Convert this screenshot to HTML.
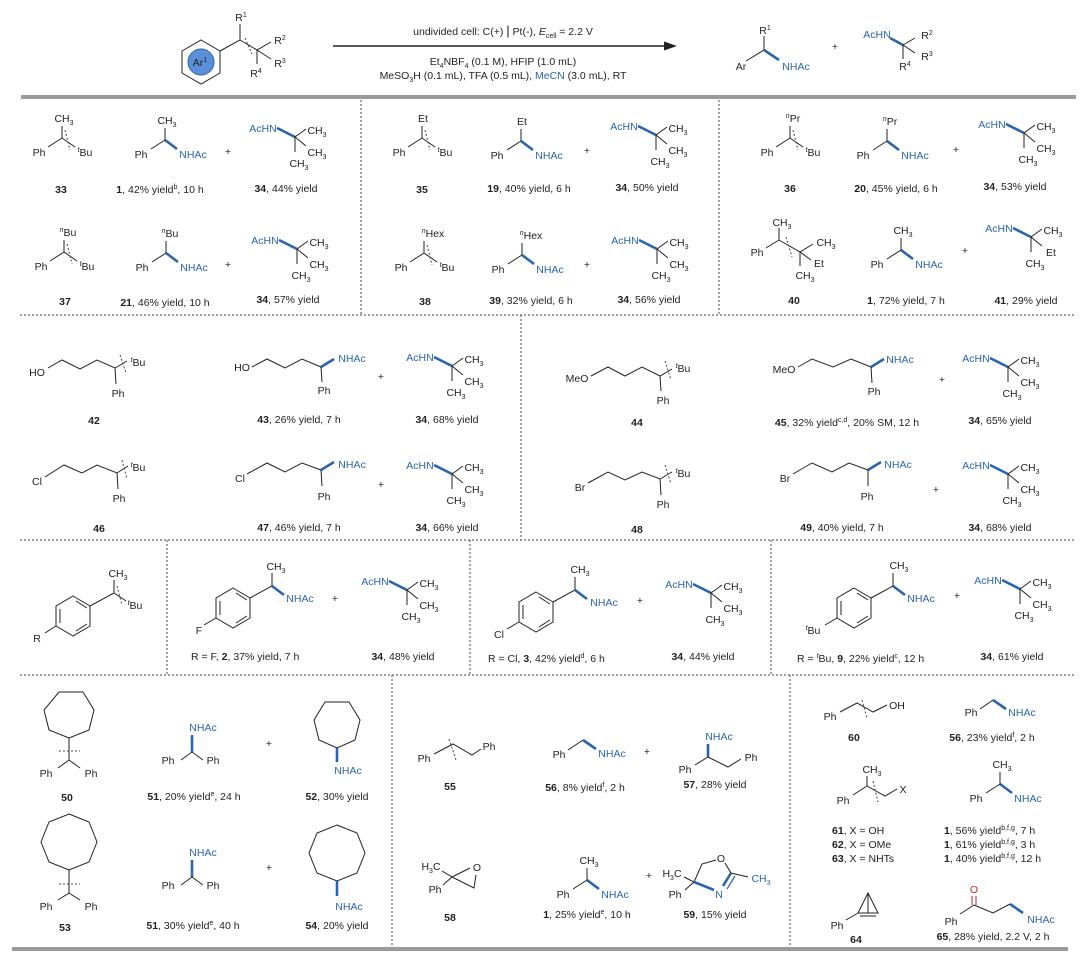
<!DOCTYPE html>
<html><head><meta charset="utf-8"><style>
html,body{margin:0;padding:0;background:#fff;}
svg{display:block;font-family:"Liberation Sans",sans-serif;font-size:10.5px;}
text{fill:#222;text-anchor:middle;}
.b{fill:#2a64b0;}
.s{text-anchor:start;}
.k{stroke:#222;stroke-width:1;fill:none;}
.bb{stroke:#2a64b0;stroke-width:2.6;fill:none;}
.d{stroke:#444;stroke-width:1;stroke-dasharray:2,2;fill:none;}
.sep{stroke:#666;stroke-width:1.2;stroke-dasharray:2,2;}
</style></head><body>
<svg width="1080" height="961" viewBox="0 0 1080 961" xmlns="http://www.w3.org/2000/svg">
<defs></defs>
<!-- header -->
<polygon class="k" points="201,40 220,51 220,73 201,84 182,73 182,51"/>
<circle cx="201" cy="62" r="13" fill="#5b8fd8" stroke="#2a64b0"/>
<text x="200" y="66">Ar<tspan dy="-4" font-size="7">1</tspan></text>
<path class="k" d="M220,51 L240,40 L240,24 M240,40 L257,50 L271,42 M257,50 L271,59 M257,50 L257,64"/>
<path class="d" d="M245,38 L252,54"/>
<text x="241" y="21">R<tspan dy="-4" font-size="7">1</tspan></text>
<text x="280" y="44">R<tspan dy="-4" font-size="7">2</tspan></text>
<text x="280" y="67">R<tspan dy="-4" font-size="7">3</tspan></text>
<text x="256" y="77">R<tspan dy="-4" font-size="7">4</tspan></text>
<line x1="333" y1="46" x2="668" y2="46" stroke="#222" stroke-width="1.5"/>
<polygon points="677,46 664,41.5 664,50.5" fill="#222"/>
<text x="503" y="35">undivided cell:  C(+) <tspan font-size="13">|</tspan> Pt(-),  <tspan font-style="italic">E</tspan><tspan dy="3" font-size="7">cell</tspan><tspan dy="-3"> = 2.2 V</tspan></text>
<text x="503" y="65">Et<tspan dy="3" font-size="7">4</tspan><tspan dy="-3">NBF</tspan><tspan dy="3" font-size="7">4</tspan><tspan dy="-3"> (0.1 M), HFIP (1.0 mL)</tspan></text>
<text x="503" y="79">MeSO<tspan dy="3" font-size="7">3</tspan><tspan dy="-3">H (0.1 mL), TFA (0.5 mL), </tspan><tspan class="b">MeCN</tspan> (3.0 mL), RT</text>
<path class="k" d="M746,61 L764,50 L764,36"/><path class="bb" d="M764,50 L779,60"/>
<text x="741" y="70">Ar</text><text x="765" y="34">R<tspan dy="-4" font-size="7">1</tspan></text><text class="b" x="796" y="70">NHAc</text>
<text x="835" y="50">+</text>
<path class="bb" d="M890,38 L903,45"/><path class="k" d="M903,45 L915,38 M903,45 L915,53 M903,45 L903,59"/>
<text class="b" x="877" y="38">AcHN</text>
<text x="927" y="39">R<tspan dy="-4" font-size="7">2</tspan></text>
<text x="927" y="60">R<tspan dy="-4" font-size="7">3</tspan></text>
<text x="905" y="70">R<tspan dy="-4" font-size="7">4</tspan></text>

<!-- separators -->
<rect x="21" y="95" width="1055" height="4" fill="#9a9a9a"/>
<rect x="12" y="947" width="1056" height="4" fill="#9a9a9a"/>
<line class="sep" x1="20" y1="315" x2="1076" y2="315"/>
<line class="sep" x1="20" y1="540" x2="1076" y2="540"/>
<line class="sep" x1="20" y1="675" x2="1076" y2="675"/>
<line class="sep" x1="361" y1="100" x2="361" y2="315"/>
<line class="sep" x1="719" y1="100" x2="719" y2="315"/>
<line class="sep" x1="521" y1="315" x2="521" y2="540"/>
<line class="sep" x1="167" y1="540" x2="167" y2="675"/>
<line class="sep" x1="470" y1="540" x2="470" y2="675"/>
<line class="sep" x1="771" y1="540" x2="771" y2="675"/>
<line class="sep" x1="392" y1="675" x2="392" y2="946"/>
<line class="sep" x1="790" y1="675" x2="790" y2="946"/>

<!-- ROW 1 -->
<!-- 33 -->
<g transform="translate(62,138)"><path class="k" d="M0,0 L0,-12 M0,0 L-14,9 M0,0 L13,9"/><path class="d" d="M3,-8 L8,12"/>
<text x="2" y="-16">CH<tspan dy="3" font-size="7">3</tspan></text><text x="-23" y="18">Ph</text><text x="23" y="18"><tspan font-style="italic" font-size="7" dy="-4">t</tspan><tspan dy="4">Bu</tspan></text></g>
<g transform="translate(165,140)"><path class="k" d="M0,0 L0,-12 M0,0 L-14,9"/><path class="bb" d="M0,0 L12,9"/>
<text x="2" y="-16">CH<tspan dy="3" font-size="7">3</tspan></text><text x="-24" y="18">Ph</text><text class="b" x="28" y="18">NHAc</text></g>
<text x="228" y="155">+</text>
<g transform="translate(295,137)"><path class="bb" d="M-18,-9 L0,0"/><path class="k" d="M0,0 L11,-8 M0,0 L11,9 M0,0 L0,15"/>
<text class="b" x="-32" y="-5">AcHN</text><text x="22" y="-3">CH<tspan dy="3" font-size="7">3</tspan></text><text x="22" y="19">CH<tspan dy="3" font-size="7">3</tspan></text><text x="4" y="30">CH<tspan dy="3" font-size="7">3</tspan></text></g>
<text x="61" y="193" font-weight="bold">33</text>
<text x="160" y="193"><tspan font-weight="bold">1</tspan>, 42% yield<tspan dy="-4" font-size="7">b</tspan><tspan dy="4">, 10 h</tspan></text>
<text x="286" y="192"><tspan font-weight="bold">34</tspan>, 44% yield</text>
<!-- 35 -->
<g transform="translate(422,138)"><path class="k" d="M0,0 L0,-12 M0,0 L-14,9 M0,0 L13,9"/><path class="d" d="M3,-8 L8,12"/>
<text x="1" y="-16">Et</text><text x="-23" y="18">Ph</text><text x="23" y="18"><tspan font-style="italic" font-size="7" dy="-4">t</tspan><tspan dy="4">Bu</tspan></text></g>
<g transform="translate(521,141)"><path class="k" d="M0,0 L0,-12 M0,0 L-14,9"/><path class="bb" d="M0,0 L12,9"/>
<text x="1" y="-16">Et</text><text x="-24" y="18">Ph</text><text class="b" x="28" y="18">NHAc</text></g>
<text x="587" y="154">+</text>
<g transform="translate(656,135)"><path class="bb" d="M-18,-9 L0,0"/><path class="k" d="M0,0 L11,-8 M0,0 L11,9 M0,0 L0,15"/>
<text class="b" x="-32" y="-5">AcHN</text><text x="22" y="-3">CH<tspan dy="3" font-size="7">3</tspan></text><text x="22" y="19">CH<tspan dy="3" font-size="7">3</tspan></text><text x="4" y="30">CH<tspan dy="3" font-size="7">3</tspan></text></g>
<text x="422" y="193" font-weight="bold">35</text>
<text x="529" y="192"><tspan font-weight="bold">19</tspan>, 40% yield, 6 h</text>
<text x="647" y="191"><tspan font-weight="bold">34</tspan>, 50% yield</text>
<!-- 36 -->
<g transform="translate(790,138)"><path class="k" d="M0,0 L0,-12 M0,0 L-14,9 M0,0 L13,9"/><path class="d" d="M3,-8 L8,12"/>
<text x="3" y="-16"><tspan font-style="italic" font-size="7" dy="-4">n</tspan><tspan dy="4">Pr</tspan></text><text x="-23" y="18">Ph</text><text x="23" y="18"><tspan font-style="italic" font-size="7" dy="-4">t</tspan><tspan dy="4">Bu</tspan></text></g>
<g transform="translate(887,141)"><path class="k" d="M0,0 L0,-12 M0,0 L-14,9"/><path class="bb" d="M0,0 L12,9"/>
<text x="3" y="-16"><tspan font-style="italic" font-size="7" dy="-4">n</tspan><tspan dy="4">Pr</tspan></text><text x="-24" y="18">Ph</text><text class="b" x="28" y="18">NHAc</text></g>
<text x="956" y="153">+</text>
<g transform="translate(1024,133)"><path class="bb" d="M-18,-9 L0,0"/><path class="k" d="M0,0 L11,-8 M0,0 L11,9 M0,0 L0,15"/>
<text class="b" x="-32" y="-5">AcHN</text><text x="22" y="-3">CH<tspan dy="3" font-size="7">3</tspan></text><text x="22" y="19">CH<tspan dy="3" font-size="7">3</tspan></text><text x="4" y="30">CH<tspan dy="3" font-size="7">3</tspan></text></g>
<text x="790" y="192" font-weight="bold">36</text>
<text x="896" y="192"><tspan font-weight="bold">20</tspan>, 45% yield, 6 h</text>
<text x="1015" y="190"><tspan font-weight="bold">34</tspan>, 53% yield</text>
<!-- 37 -->
<g transform="translate(64,252)"><path class="k" d="M0,0 L0,-12 M0,0 L-14,9 M0,0 L13,9"/><path class="d" d="M3,-8 L8,12"/>
<text x="4" y="-16"><tspan font-style="italic" font-size="7" dy="-4">n</tspan><tspan dy="4">Bu</tspan></text><text x="-23" y="18">Ph</text><text x="23" y="18"><tspan font-style="italic" font-size="7" dy="-4">t</tspan><tspan dy="4">Bu</tspan></text></g>
<g transform="translate(166,253)"><path class="k" d="M0,0 L0,-12 M0,0 L-14,9"/><path class="bb" d="M0,0 L12,9"/>
<text x="4" y="-16"><tspan font-style="italic" font-size="7" dy="-4">n</tspan><tspan dy="4">Bu</tspan></text><text x="-24" y="18">Ph</text><text class="b" x="28" y="18">NHAc</text></g>
<text x="228" y="268">+</text>
<g transform="translate(297,249)"><path class="bb" d="M-18,-9 L0,0"/><path class="k" d="M0,0 L11,-8 M0,0 L11,9 M0,0 L0,15"/>
<text class="b" x="-32" y="-5">AcHN</text><text x="22" y="-3">CH<tspan dy="3" font-size="7">3</tspan></text><text x="22" y="19">CH<tspan dy="3" font-size="7">3</tspan></text><text x="4" y="30">CH<tspan dy="3" font-size="7">3</tspan></text></g>
<text x="65" y="305" font-weight="bold">37</text>
<text x="165" y="306"><tspan font-weight="bold">21</tspan>, 46% yield, 10 h</text>
<text x="288" y="303"><tspan font-weight="bold">34</tspan>, 57% yield</text>
<!-- 38 -->
<g transform="translate(424,253)"><path class="k" d="M0,0 L0,-12 M0,0 L-14,9 M0,0 L13,9"/><path class="d" d="M3,-8 L8,12"/>
<text x="9" y="-16"><tspan font-style="italic" font-size="7" dy="-4">n</tspan><tspan dy="4">Hex</tspan></text><text x="-23" y="18">Ph</text><text x="23" y="18"><tspan font-style="italic" font-size="7" dy="-4">t</tspan><tspan dy="4">Bu</tspan></text></g>
<g transform="translate(522,255)"><path class="k" d="M0,0 L0,-12 M0,0 L-14,9"/><path class="bb" d="M0,0 L12,9"/>
<text x="9" y="-16"><tspan font-style="italic" font-size="7" dy="-4">n</tspan><tspan dy="4">Hex</tspan></text><text x="-24" y="18">Ph</text><text class="b" x="28" y="18">NHAc</text></g>
<text x="587" y="268">+</text>
<g transform="translate(657,249)"><path class="bb" d="M-18,-9 L0,0"/><path class="k" d="M0,0 L11,-8 M0,0 L11,9 M0,0 L0,15"/>
<text class="b" x="-32" y="-5">AcHN</text><text x="22" y="-3">CH<tspan dy="3" font-size="7">3</tspan></text><text x="22" y="19">CH<tspan dy="3" font-size="7">3</tspan></text><text x="4" y="30">CH<tspan dy="3" font-size="7">3</tspan></text></g>
<text x="425" y="305" font-weight="bold">38</text>
<text x="531" y="304"><tspan font-weight="bold">39</tspan>, 32% yield, 6 h</text>
<text x="649" y="303"><tspan font-weight="bold">34</tspan>, 56% yield</text>
<!-- 40 -->
<path class="k" d="M779,240 L779,228 M779,240 L766,248 M779,240 L800,252 L813,244 M800,252 L811,260 M800,252 L800,266"/>
<path class="d" d="M786,237 L792,257"/>
<text x="782" y="226">CH<tspan dy="3" font-size="7">3</tspan></text><text x="757" y="256">Ph</text>
<text x="826" y="246">CH<tspan dy="3" font-size="7">3</tspan></text><text x="819" y="267">Et</text><text x="805" y="279">CH<tspan dy="3" font-size="7">3</tspan></text>
<g transform="translate(901,250)"><path class="k" d="M0,0 L0,-12 M0,0 L-14,9"/><path class="bb" d="M0,0 L12,9"/>
<text x="2" y="-16">CH<tspan dy="3" font-size="7">3</tspan></text><text x="-24" y="18">Ph</text><text class="b" x="28" y="18">NHAc</text></g>
<text x="965" y="254">+</text>
<g transform="translate(1031,237)"><path class="bb" d="M-18,-9 L0,0"/><path class="k" d="M0,0 L11,-8 M0,0 L11,9 M0,0 L0,15"/>
<text class="b" x="-32" y="-5">AcHN</text><text x="22" y="-3">CH<tspan dy="3" font-size="7">3</tspan></text><text x="20" y="19">Et</text><text x="4" y="30">CH<tspan dy="3" font-size="7">3</tspan></text></g>
<text x="794" y="304" font-weight="bold">40</text>
<text x="906" y="304"><tspan font-weight="bold">1</tspan>, 72% yield, 7 h</text>
<text x="1026" y="304"><tspan font-weight="bold">41</tspan>, 29% yield</text>

<!-- ROW 2 -->
<text x="37" y="376">HO</text>
<polyline class="k" points="48,368 62,360 80,369 97,360 115,368 127,361"/><path class="k" d="M115,368 L116,384"/><path class="d" d="M120,355 L126,373"/>
<text x="138" y="366"><tspan font-style="italic" font-size="7" dy="-4">t</tspan><tspan dy="4">Bu</tspan></text><text x="118" y="397">Ph</text>
<text x="94" y="424" font-weight="bold">42</text>
<text x="242" y="371">HO</text>
<polyline class="k" points="252,367 267,359 285,368 302,359 321,367"/><path class="bb" d="M321,367 L334,359"/><path class="k" d="M321,367 L322,382"/>
<text class="b" x="352" y="362">NHAc</text><text x="324" y="394">Ph</text>
<text x="299" y="423"><tspan font-weight="bold">43</tspan>, 26% yield, 7 h</text>
<text x="381" y="380">+</text>
<g transform="translate(452,366)"><path class="bb" d="M-18,-9 L0,0"/><path class="k" d="M0,0 L11,-8 M0,0 L11,9 M0,0 L0,15"/>
<text class="b" x="-32" y="-5">AcHN</text><text x="22" y="-3">CH<tspan dy="3" font-size="7">3</tspan></text><text x="22" y="19">CH<tspan dy="3" font-size="7">3</tspan></text><text x="4" y="30">CH<tspan dy="3" font-size="7">3</tspan></text></g>
<text x="447" y="423"><tspan font-weight="bold">34</tspan>, 68% yield</text>

<text x="577" y="382">MeO</text>
<polyline class="k" points="591,376 608,367 625,376 642,367 660,376 672,369"/><path class="k" d="M660,376 L661,391"/><path class="d" d="M665,361 L671,380"/>
<text x="683" y="372"><tspan font-style="italic" font-size="7" dy="-4">t</tspan><tspan dy="4">Bu</tspan></text><text x="663" y="404">Ph</text>
<text x="637" y="426" font-weight="bold">44</text>
<text x="784" y="373">MeO</text>
<polyline class="k" points="798,367 812,359 833,367 851,359 871,367"/><path class="bb" d="M871,367 L884,359"/><path class="k" d="M871,367 L872,383"/>
<text class="b" x="900" y="363">NHAc</text><text x="874" y="395">Ph</text>
<text x="847" y="426"><tspan font-weight="bold">45</tspan>, 32% yield<tspan dy="-4" font-size="7">c,d</tspan><tspan dy="4">, 20% SM, 12 h</tspan></text>
<text x="942" y="383">+</text>
<g transform="translate(1008,367)"><path class="bb" d="M-18,-9 L0,0"/><path class="k" d="M0,0 L11,-8 M0,0 L11,9 M0,0 L0,15"/>
<text class="b" x="-32" y="-5">AcHN</text><text x="22" y="-3">CH<tspan dy="3" font-size="7">3</tspan></text><text x="22" y="19">CH<tspan dy="3" font-size="7">3</tspan></text><text x="4" y="30">CH<tspan dy="3" font-size="7">3</tspan></text></g>
<text x="1000" y="424"><tspan font-weight="bold">34</tspan>, 65% yield</text>

<text x="37" y="485">Cl</text>
<polyline class="k" points="45,477 64,465 82,473 97,465 117,473 128,466"/><path class="k" d="M117,473 L118,489"/><path class="d" d="M122,460 L127,479"/>
<text x="138" y="471"><tspan font-style="italic" font-size="7" dy="-4">t</tspan><tspan dy="4">Bu</tspan></text><text x="119" y="502">Ph</text>
<text x="99" y="532" font-weight="bold">46</text>
<text x="240" y="482">Cl</text>
<polyline class="k" points="247,474 267,463 285,472 302,463 321,470"/><path class="bb" d="M321,470 L334,462"/><path class="k" d="M321,470 L322,486"/>
<text class="b" x="352" y="468">NHAc</text><text x="324" y="500">Ph</text>
<text x="299" y="531"><tspan font-weight="bold">47</tspan>, 46% yield, 7 h</text>
<text x="381" y="488">+</text>
<g transform="translate(452,474)"><path class="bb" d="M-18,-9 L0,0"/><path class="k" d="M0,0 L11,-8 M0,0 L11,9 M0,0 L0,15"/>
<text class="b" x="-32" y="-5">AcHN</text><text x="22" y="-3">CH<tspan dy="3" font-size="7">3</tspan></text><text x="22" y="19">CH<tspan dy="3" font-size="7">3</tspan></text><text x="4" y="30">CH<tspan dy="3" font-size="7">3</tspan></text></g>
<text x="447" y="531"><tspan font-weight="bold">34</tspan>, 66% yield</text>

<text x="580" y="491">Br</text>
<polyline class="k" points="588,483 608,472 625,480 642,472 660,479 672,472"/><path class="k" d="M660,479 L661,495"/><path class="d" d="M665,465 L671,484"/>
<text x="683" y="477"><tspan font-style="italic" font-size="7" dy="-4">t</tspan><tspan dy="4">Bu</tspan></text><text x="663" y="508">Ph</text>
<text x="637" y="533" font-weight="bold">48</text>
<text x="785" y="482">Br</text>
<polyline class="k" points="793,474 812,463 832,472 849,463 868,470"/><path class="bb" d="M868,470 L881,462"/><path class="k" d="M868,470 L868,486"/>
<text class="b" x="898" y="468">NHAc</text><text x="867" y="500">Ph</text>
<text x="842" y="531"><tspan font-weight="bold">49</tspan>, 40% yield, 7 h</text>
<text x="936" y="493">+</text>
<g transform="translate(1008,474)"><path class="bb" d="M-18,-9 L0,0"/><path class="k" d="M0,0 L11,-8 M0,0 L11,9 M0,0 L0,15"/>
<text class="b" x="-32" y="-5">AcHN</text><text x="22" y="-3">CH<tspan dy="3" font-size="7">3</tspan></text><text x="22" y="19">CH<tspan dy="3" font-size="7">3</tspan></text><text x="4" y="30">CH<tspan dy="3" font-size="7">3</tspan></text></g>
<text x="1000" y="531"><tspan font-weight="bold">34</tspan>, 68% yield</text>

<!-- ROW 3 -->
<g transform="translate(73,616)"><polygon class="k" points="0,-20 17,-10 17,10 0,20 -17,10 -17,-10"/><path class="k" d="M-13,-7 L-13,7 M3,-15 L14,-8 M3,15 L14,8"/></g>
<path class="k" d="M56,626 L45,633 M90,606 L114,593 L114,580 M114,593 L126,601"/><path class="d" d="M117,586 L122,605"/>
<text x="37" y="642">R</text><text x="118" y="577">CH<tspan dy="3" font-size="7">3</tspan></text>
<text x="135" y="609"><tspan font-style="italic" font-size="7" dy="-4">t</tspan><tspan dy="4">Bu</tspan></text>

<g transform="translate(233,608)"><polygon class="k" points="0,-20 17,-10 17,10 0,20 -17,10 -17,-10"/><path class="k" d="M-13,-7 L-13,7 M3,-15 L14,-8 M3,15 L14,8"/></g>
<path class="k" d="M216,618 L204,625 M250,598 L272,586 L272,573"/><path class="bb" d="M272,586 L284,595"/>
<text x="199" y="634">F</text><text x="276" y="570">CH<tspan dy="3" font-size="7">3</tspan></text><text class="b" x="300" y="602">NHAc</text>
<text x="335" y="602">+</text>
<g transform="translate(407,590)"><path class="bb" d="M-18,-9 L0,0"/><path class="k" d="M0,0 L11,-8 M0,0 L11,9 M0,0 L0,15"/>
<text class="b" x="-32" y="-5">AcHN</text><text x="22" y="-3">CH<tspan dy="3" font-size="7">3</tspan></text><text x="22" y="19">CH<tspan dy="3" font-size="7">3</tspan></text><text x="4" y="30">CH<tspan dy="3" font-size="7">3</tspan></text></g>
<text class="s" x="191" y="660">R = F, <tspan font-weight="bold">2</tspan>, 37% yield, 7 h</text>
<text x="403" y="660"><tspan font-weight="bold">34</tspan>, 48% yield</text>

<g transform="translate(536,612)"><polygon class="k" points="0,-20 17,-10 17,10 0,20 -17,10 -17,-10"/><path class="k" d="M-13,-7 L-13,7 M3,-15 L14,-8 M3,15 L14,8"/></g>
<path class="k" d="M519,622 L507,629 M553,602 L575,590 L575,577"/><path class="bb" d="M575,590 L587,599"/>
<text x="499" y="638">Cl</text><text x="580" y="573">CH<tspan dy="3" font-size="7">3</tspan></text><text class="b" x="604" y="606">NHAc</text>
<text x="640" y="604">+</text>
<g transform="translate(711,593)"><path class="bb" d="M-18,-9 L0,0"/><path class="k" d="M0,0 L11,-8 M0,0 L11,9 M0,0 L0,15"/>
<text class="b" x="-32" y="-5">AcHN</text><text x="22" y="-3">CH<tspan dy="3" font-size="7">3</tspan></text><text x="22" y="19">CH<tspan dy="3" font-size="7">3</tspan></text><text x="4" y="30">CH<tspan dy="3" font-size="7">3</tspan></text></g>
<text class="s" x="488" y="662">R = Cl, <tspan font-weight="bold">3</tspan>, 42% yield<tspan dy="-4" font-size="7">d</tspan><tspan dy="4">, 6 h</tspan></text>
<text x="703" y="660"><tspan font-weight="bold">34</tspan>, 44% yield</text>

<g transform="translate(854,608)"><polygon class="k" points="0,-20 17,-10 17,10 0,20 -17,10 -17,-10"/><path class="k" d="M-13,-7 L-13,7 M3,-15 L14,-8 M3,15 L14,8"/></g>
<path class="k" d="M837,618 L825,625 M871,598 L893,586 L893,573"/><path class="bb" d="M893,586 L905,595"/>
<text x="813" y="634"><tspan font-style="italic" font-size="7" dy="-4">t</tspan><tspan dy="4">Bu</tspan></text><text x="899" y="569">CH<tspan dy="3" font-size="7">3</tspan></text><text class="b" x="921" y="602">NHAc</text>
<text x="957" y="599">+</text>
<g transform="translate(1020,589)"><path class="bb" d="M-18,-9 L0,0"/><path class="k" d="M0,0 L11,-8 M0,0 L11,9 M0,0 L0,15"/>
<text class="b" x="-32" y="-5">AcHN</text><text x="22" y="-3">CH<tspan dy="3" font-size="7">3</tspan></text><text x="22" y="19">CH<tspan dy="3" font-size="7">3</tspan></text><text x="4" y="30">CH<tspan dy="3" font-size="7">3</tspan></text></g>
<text class="s" x="797" y="662">R = <tspan font-style="italic" font-size="7" dy="-4">t</tspan><tspan dy="4">Bu, </tspan><tspan font-weight="bold">9</tspan>, 22% yield<tspan dy="-4" font-size="7">c</tspan><tspan dy="4">, 12 h</tspan></text>
<text x="1012" y="660"><tspan font-weight="bold">34</tspan>, 61% yield</text>

<!-- ROW 4 -->
<polygon class="k" points="59,692 83,692 94,710 89,730 69,738 49,730 44,710"/>
<path class="k" d="M69,738 L69,760 L58,768 M69,760 L80,768"/><path class="d" d="M59,751 L80,751"/>
<text x="46" y="777">Ph</text><text x="91" y="777">Ph</text><text x="67" y="801" font-weight="bold">50</text>
<path class="bb" d="M192,735 L192,752"/><path class="k" d="M192,752 L181,760 M192,752 L203,760"/>
<text class="b" x="203" y="731">NHAc</text><text x="168" y="764">Ph</text><text x="213" y="764">Ph</text>
<text x="194" y="800"><tspan font-weight="bold">51</tspan>, 20% yield<tspan dy="-4" font-size="7">e</tspan><tspan dy="4">, 24 h</tspan></text>
<text x="269" y="747">+</text>
<polygon class="k" points="325,702 349,702 360,720 355,740 337,748 319,740 314,720"/>
<path class="bb" d="M337,748 L337,762"/><text class="b" x="348" y="774">NHAc</text>
<text x="337" y="800"><tspan font-weight="bold">52</tspan>, 30% yield</text>

<polygon class="k" points="69,814 89,822 97,842 89,862 69,870 49,862 41,842 49,822"/>
<path class="k" d="M69,870 L69,893 L58,900 M69,893 L80,900"/><path class="d" d="M59,884 L80,884"/>
<text x="46" y="910">Ph</text><text x="91" y="910">Ph</text><text x="65" y="931" font-weight="bold">53</text>
<path class="bb" d="M192,860 L192,877"/><path class="k" d="M192,877 L181,885 M192,877 L203,885"/>
<text class="b" x="203" y="856">NHAc</text><text x="168" y="889">Ph</text><text x="213" y="889">Ph</text>
<text x="193" y="929"><tspan font-weight="bold">51</tspan>, 30% yield<tspan dy="-4" font-size="7">e</tspan><tspan dy="4">, 40 h</tspan></text>
<text x="269" y="871">+</text>
<polygon class="k" points="337,825 357,833 365,853 357,873 337,881 317,873 309,853 317,833"/>
<path class="bb" d="M337,881 L337,896"/><text class="b" x="349" y="910">NHAc</text>
<text x="337" y="929"><tspan font-weight="bold">54</tspan>, 20% yield</text>

<polyline class="k" points="434,754 453,744 472,755 481,749"/><path class="d" d="M449,739 L456,760"/>
<text x="424" y="762">Ph</text><text x="489" y="750">Ph</text><text x="450" y="790" font-weight="bold">55</text>
<path class="k" d="M568,750 L583,740"/><path class="bb" d="M583,740 L596,749"/>
<text x="559" y="758">Ph</text><text class="b" x="612" y="757">NHAc</text>
<text x="585" y="791"><tspan font-weight="bold">56</tspan>, 8% yield<tspan dy="-4" font-size="7">f</tspan><tspan dy="4">, 2 h</tspan></text>
<text x="647" y="755">+</text>
<path class="bb" d="M708,744 L708,757"/><path class="k" d="M708,757 L695,765 M708,757 L728,767 L741,759"/>
<text class="b" x="719" y="740">NHAc</text><text x="685" y="773">Ph</text><text x="751" y="761">Ph</text>
<text x="715" y="788"><tspan font-weight="bold">57</tspan>, 28% yield</text>

<path class="k" d="M442,871 L452,877 L443,885 M452,877 L470,868 M452,877 L474,888 L476,875"/>
<text x="431" y="870">H<tspan dy="3" font-size="7">3</tspan><tspan dy="-3">C</tspan></text><text x="435" y="893">Ph</text><text x="477" y="871">O</text>
<text x="450" y="921" font-weight="bold">58</text>
<g transform="translate(587,880)"><path class="k" d="M0,0 L0,-12 M0,0 L-14,9"/><path class="bb" d="M0,0 L12,9"/>
<text x="2" y="-16">CH<tspan dy="3" font-size="7">3</tspan></text><text x="-24" y="18">Ph</text><text class="b" x="28" y="18">NHAc</text></g>
<text x="587" y="918"><tspan font-weight="bold">1</tspan>, 25% yield<tspan dy="-4" font-size="7">e</tspan><tspan dy="4">, 10 h</tspan></text>
<text x="649" y="879">+</text>
<path class="k" d="M684,877 L694,882 L685,890 M694,882 L702,864 L716,860 M725,863 L731,873 L748,877"/>
<path class="bb" d="M731,873 L723,886 M694,882 L714,890" stroke-width="2"/><path d="M735,876 L727,889" stroke="#2a64b0" stroke-width="1.2"/>
<text x="672" y="877">H<tspan dy="3" font-size="7">3</tspan><tspan dy="-3">C</tspan></text><text x="675" y="898">Ph</text><text x="721" y="862">O</text>
<text class="b" x="719" y="898">N</text><text class="b" x="761" y="882">CH<tspan dy="3" font-size="7">3</tspan></text>
<text x="715" y="918"><tspan font-weight="bold">59</tspan>, 15% yield</text>

<polyline class="k" points="840,712 857,703 873,712 887,705"/><path class="d" d="M862,700 L867,718"/>
<text x="830" y="720">Ph</text><text x="897" y="709">OH</text><text x="854" y="741" font-weight="bold">60</text>
<path class="k" d="M980,709 L993,700"/><path class="bb" d="M993,700 L1006,709"/>
<text x="971" y="716">Ph</text><text class="b" x="1022" y="716">NHAc</text>
<text x="992" y="741"><tspan font-weight="bold">56</tspan>, 23% yield<tspan dy="-4" font-size="7">f</tspan><tspan dy="4">, 2 h</tspan></text>
<path class="k" d="M867,776 L867,786 L853,795 M867,786 L885,796 L897,789"/><path class="d" d="M873,781 L878,802"/>
<text x="872" y="773">CH<tspan dy="3" font-size="7">3</tspan></text><text x="843" y="804">Ph</text><text x="903" y="793">X</text>
<text class="s" x="832" y="834"><tspan font-weight="bold">61</tspan>, X = OH</text>
<text class="s" x="832" y="848"><tspan font-weight="bold">62</tspan>, X = OMe</text>
<text class="s" x="832" y="862"><tspan font-weight="bold">63</tspan>, X = NHTs</text>
<g transform="translate(1000,784)"><path class="k" d="M0,0 L0,-12 M0,0 L-14,9"/><path class="bb" d="M0,0 L12,9"/>
<text x="2" y="-16">CH<tspan dy="3" font-size="7">3</tspan></text><text x="-24" y="18">Ph</text><text class="b" x="28" y="18">NHAc</text></g>
<text class="s" x="944" y="834"><tspan font-weight="bold">1</tspan>, 56% yield<tspan dy="-4" font-size="7">b,f,g</tspan><tspan dy="4">, 7 h</tspan></text>
<text class="s" x="944" y="848"><tspan font-weight="bold">1</tspan>, 61% yield<tspan dy="-4" font-size="7">b,f,g</tspan><tspan dy="4">, 3 h</tspan></text>
<text class="s" x="944" y="862"><tspan font-weight="bold">1</tspan>, 40% yield<tspan dy="-4" font-size="7">b,f,g</tspan><tspan dy="4">, 12 h</tspan></text>
<polygon class="k" points="868,893 858,913 878,913"/><path class="k" d="M868,893 L868,913 M860,916 L876,916 M858,913 L846,920"/>
<text x="837" y="929">Ph</text><text x="856" y="943" font-weight="bold">64</text>
<path d="M972,896 L972,905 M976,896 L976,905" stroke="#c0282d" stroke-width="1"/>
<path class="k" d="M974,905 L960,914 M974,905 L993,913 L1010,904"/><path class="bb" d="M1010,904 L1023,913"/>
<text x="974" y="893" fill="#c0282d" style="fill:#c0282d">O</text><text x="951" y="925">Ph</text><text class="b" x="1041" y="923">NHAc</text>
<text x="993" y="940"><tspan font-weight="bold">65</tspan>, 28% yield, 2.2 V, 2 h</text>
</svg>
</body></html>
